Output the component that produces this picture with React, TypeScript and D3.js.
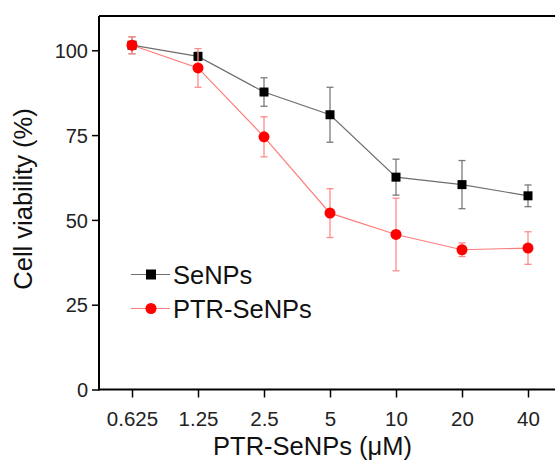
import React, { useRef, useEffect } from "react";
import { select, scaleLinear, axisBottom, axisLeft, line, symbol, symbolSquare } from "d3";

const doses = ["0.625", "1.25", "2.5", "5", "10", "20", "40"];
const seNPs = [101.5, 98.2, 87.7, 81.0, 62.6, 60.4, 57.1];
const seNPsErr = [2.5, 1.2, 4.2, 8.1, 5.3, 7.1, 3.2];
const ptrSeNPs = [101.5, 94.8, 74.5, 52.0, 45.7, 41.2, 41.7];
const ptrSeNPsErr = [2.5, 5.7, 5.9, 7.2, 10.7, 2.0, 4.8];
const yTicks = [0, 25, 50, 75, 100];

const W = 555;
const H = 461;
const font = "'Liberation Sans', Arial, sans-serif";

const App = () => {
  const svgRef = useRef(null);

  useEffect(() => {
    const svg = select(svgRef.current);
    svg.selectAll("*").remove();

    // index scale, plot frame runs off the right edge like the original
    const x = scaleLinear().domain([-0.5, 6.5]).range([99, 561]);
    const y = scaleLinear().domain([0, 100]).range([389.5, 50.3]);

    const series = [
      { name: "SeNPs", vals: seNPs, err: seNPsErr, line: "#6e6e6e", errColor: "#7a7a7a", fill: "#000", shape: "square" },
      { name: "PTR-SeNPs", vals: ptrSeNPs, err: ptrSeNPsErr, line: "#ff7a7a", errColor: "#ff8a8a", fill: "#ff0000", shape: "circle" },
    ];

    // top border
    svg.append("line")
      .attr("x1", 99).attr("x2", W).attr("y1", 16).attr("y2", 16)
      .attr("stroke", "#000").attr("stroke-width", 2);

    const xAxis = axisBottom(x).tickValues(doses.map((d, i) => i)).tickFormat((i) => doses[i]).tickSize(8).tickSizeOuter(0);
    const gx = svg.append("g").attr("transform", "translate(0,389.5)").call(xAxis);
    gx.select(".domain").attr("stroke-width", 2).attr("d", `M99,0H${W}`);
    gx.selectAll(".tick line").attr("stroke-width", 1.5);
    gx.selectAll(".tick text").attr("dy", 0).attr("y", 36).attr("font-size", 20.5).attr("font-family", font).attr("fill", "#222");

    const yAxis = axisLeft(y).tickValues(yTicks).tickSize(7).tickSizeOuter(0);
    const gy = svg.append("g").attr("transform", "translate(99,0)").call(yAxis);
    gy.select(".domain").attr("stroke-width", 2).attr("d", "M0,16V390.5");
    gy.selectAll(".tick line").attr("stroke-width", 1.5);
    gy.selectAll(".tick text").attr("x", -11).attr("dy", "0.36em").attr("font-size", 20).attr("font-family", font).attr("fill", "#222");

    series.forEach((s) => {
      const g = svg.append("g");
      g.append("path")
        .attr("d", line()(s.vals.map((v, i) => [x(i), y(v)])))
        .attr("fill", "none").attr("stroke", s.line).attr("stroke-width", 1.2);

      s.vals.forEach((v, i) => {
        const cx = x(i);
        const t = y(v + s.err[i]);
        const b = y(v - s.err[i]);
        g.append("line").attr("x1", cx).attr("x2", cx).attr("y1", t).attr("y2", b).attr("stroke", s.errColor).attr("stroke-width", 1.3);
        g.append("line").attr("x1", cx - 3.5).attr("x2", cx + 3.5).attr("y1", t).attr("y2", t).attr("stroke", s.errColor).attr("stroke-width", 1.3);
        g.append("line").attr("x1", cx - 3.5).attr("x2", cx + 3.5).attr("y1", b).attr("y2", b).attr("stroke", s.errColor).attr("stroke-width", 1.3);
      });

      s.vals.forEach((v, i) => {
        if (s.shape === "square") {
          g.append("path").attr("d", symbol(symbolSquare, 81)()).attr("transform", `translate(${x(i)},${y(v)})`).attr("fill", s.fill);
        } else {
          g.append("circle").attr("cx", x(i)).attr("cy", y(v)).attr("r", 5.5).attr("fill", s.fill);
        }
      });
    });

    // legend
    series.forEach((s, k) => {
      const ly = 274.5 + k * 34;
      const lg = svg.append("g");
      lg.append("line").attr("x1", 131).attr("x2", 170).attr("y1", ly).attr("y2", ly).attr("stroke", s.line).attr("stroke-width", 1.2);
      if (s.shape === "square") {
        lg.append("path").attr("d", symbol(symbolSquare, 100)()).attr("transform", `translate(151,${ly})`).attr("fill", s.fill);
      } else {
        lg.append("circle").attr("cx", 151).attr("cy", ly).attr("r", 5.5).attr("fill", s.fill);
      }
      lg.append("text").attr("x", 173).attr("y", ly + 9).attr("font-size", 25.5).attr("font-family", font).attr("fill", "#111").text(s.name);
    });

    svg.append("text")
      .attr("transform", "translate(32,199) rotate(-90)")
      .attr("text-anchor", "middle").attr("font-size", 25.5).attr("font-family", font).attr("fill", "#111")
      .text("Cell viability (%)");

    svg.append("text")
      .attr("x", 312.5).attr("y", 455)
      .attr("text-anchor", "middle").attr("font-size", 25.5).attr("font-family", font).attr("fill", "#111")
      .text("PTR-SeNPs (μM)");
  }, []);

  return (
    <div style={{ position: "absolute", left: 0, top: 0 }}>
      <svg ref={svgRef} width={W} height={H} style={{ display: "block", background: "#fff" }} />
    </div>
  );
};

export default App;
